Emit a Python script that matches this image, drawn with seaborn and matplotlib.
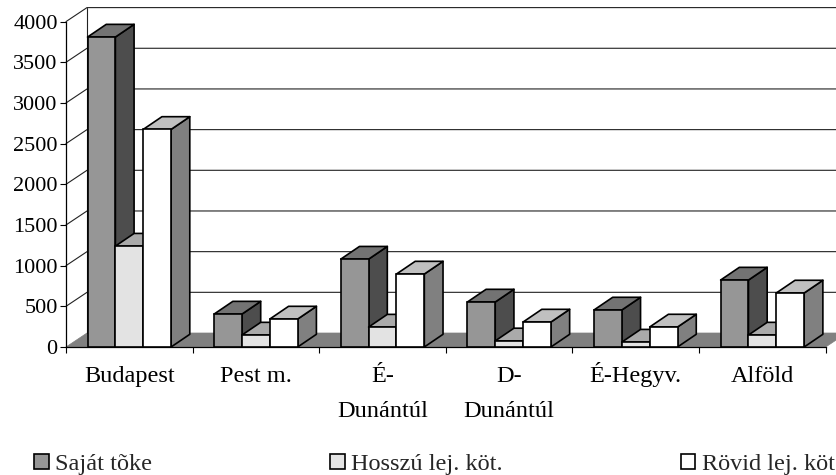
import matplotlib
matplotlib.use('Agg')
import matplotlib.pyplot as plt
from matplotlib.patches import Polygon
import seaborn as sns
import pandas as pd

regions = ['Budapest', 'Pest m.', 'É-\nDunántúl', 'D-\nDunántúl', 'É-Hegyv.', 'Alföld']
series = ['Saját tõke', 'Hosszú lej. köt.', 'Rövid lej. köt']
sajat = [3810, 405, 1080, 553, 455, 823]
hosszu = [1240, 147, 245, 75, 60, 147]
rovid = [2675, 344, 897, 307, 246, 664]
yticks = [0, 500, 1000, 1500, 2000, 2500, 3000, 3500, 4000]

front_cols = ['#969696', '#e3e3e3', '#ffffff']
top_cols = ['#737373', '#aaaaaa', '#c0c0c0']
side_cols = ['#4d4d4d', '#555555', '#808080']

df = pd.DataFrame({
    'region': regions * 3,
    'series': [s for s in series for _ in regions],
    'value': sajat + hosszu + rovid,
})

W, H = 836, 475
sns.set_theme(style='white')
plt.rcParams['font.family'] = ['Liberation Serif', 'DejaVu Serif']

fig = plt.figure(figsize=(W / 100, H / 100), dpi=100)
ax = fig.add_axes([66 / W, 1 - 347 / H, (825.7 - 66) / W, (347 - 21.6) / H])

sns.barplot(data=df, x='region', y='value', hue='series', order=regions, hue_order=series,
            palette=front_cols, saturation=1, width=0.66, edgecolor='black', linewidth=1.2, ax=ax)
ax.set_xlim(-0.495, 5.495)
ax.set_ylim(0, 4000)

# pixel depths of the fake 3d, turned into data units
px_x = (825.7 - 66) / 6
px_y = (347 - 21.6) / 4000
wall_dx, wall_dy = 21 / px_x, 14 / px_y
bar_dx, bar_dy = 18.7 / px_x, 12.7 / px_y

# floor and walls
ax.add_patch(Polygon([(-0.5, 0), (-0.5 + wall_dx, wall_dy), (5.5 + wall_dx, wall_dy), (5.5, 0)],
                     facecolor='#808080', edgecolor='#808080', lw=0.5, zorder=1, clip_on=False))
for v in yticks[1:]:
    ax.plot([-0.5, -0.5 + wall_dx, 5.5 + wall_dx], [v, v + wall_dy, v + wall_dy],
            color='#222222', lw=0.8, zorder=1.5, clip_on=False)
ax.plot([-0.5 + wall_dx] * 2, [wall_dy, 4000 + wall_dy], color='#222222', lw=0.8, zorder=1.5, clip_on=False)

# sides and tops of the bars, left to right so that each front covers its neighbour
for i, cont in enumerate(ax.containers):
    for bar in cont:
        x0, x1, h = bar.get_x(), bar.get_x() + bar.get_width(), bar.get_height()
        bar.set_zorder(3.5 + i)
        bar.set_clip_on(False)
        side = [(x1, 0), (x1 + bar_dx, bar_dy), (x1 + bar_dx, h + bar_dy), (x1, h)]
        top = [(x0, h), (x0 + bar_dx, h + bar_dy), (x1 + bar_dx, h + bar_dy), (x1, h)]
        ax.add_patch(Polygon(side, facecolor=side_cols[i], edgecolor='black', lw=1.2, zorder=3 + i, clip_on=False, joinstyle='round'))
        ax.add_patch(Polygon(top, facecolor=top_cols[i], edgecolor='black', lw=1.2, zorder=3 + i, clip_on=False, joinstyle='round'))

sns.despine(ax=ax)
for s in ['left', 'bottom']:
    ax.spines[s].set_color('black')
    ax.spines[s].set_linewidth(0.9)

ax.set_xlabel('')
ax.set_ylabel('')
ax.set_yticks(yticks)
ax.tick_params(axis='y', left=True, length=4, width=0.8, color='black', labelsize=16, labelcolor='black', pad=2)
ax.set_xticks(range(len(regions)))
ax.set_xticklabels(regions)
ax.set_xticks([i - 0.5 for i in range(len(regions) + 1)], minor=True)
ax.tick_params(axis='x', which='major', bottom=False, labelsize=17.5, labelcolor='black', pad=8)
ax.tick_params(axis='x', which='minor', bottom=True, length=4.2, width=0.8, color='black')
for lab in ax.get_xticklabels():
    lab.set_linespacing(1.85)
    lab.set_verticalalignment('top')
# the accent on the single line label pushes it down, pull it back up
ax.xaxis.get_major_ticks()[4].set_pad(5)

sns.move_legend(ax, 'lower left', bbox_to_anchor=(34 / W, 0 / H), bbox_transform=fig.transFigure,
                ncol=3, frameon=False, title=None, fontsize=17.5, columnspacing=7.31,
                handlelength=0.6, handleheight=0.6, handletextpad=0.28, borderpad=0, borderaxespad=0)
for h in ax.get_legend().legend_handles:
    h.set_edgecolor('black')
    h.set_linewidth(1.2)

fig.savefig('out.png', dpi=100, facecolor='white')
